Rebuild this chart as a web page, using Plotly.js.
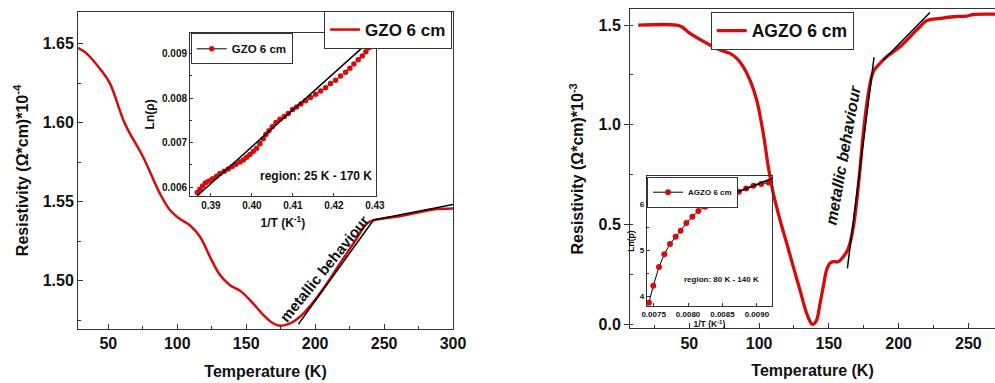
<!DOCTYPE html>
<html><head><meta charset="utf-8">
<script src="https://cdn.plot.ly/plotly-3.0.1.min.js"></script>
<style>html,body{margin:0;padding:0;background:#fff}#c{width:995px;height:383px}</style>
</head><body><div id="c"></div>
<script>
// ---- GZO main curve ----
const gzoT = [28,34.3,44,51.2,62,75.4,87.5,94.8,102,109.3,116.5,123.8,131,138.3,145.6,152.8,162.5,169.7,174.6,181.8,189,198.8,208.5,218,227.8,237.5,242.3,249.6,261.7,273.8,285.9,300];
const gzoR = [1.6473,1.6437,1.634,1.6247,1.5994,1.578,1.555,1.5446,1.539,1.535,1.5278,1.515,1.5036,1.4972,1.4937,1.4878,1.4783,1.473,1.4715,1.473,1.4772,1.4867,1.4983,1.511,1.5236,1.5362,1.5383,1.5394,1.5408,1.543,1.5451,1.5457];
const gzoFit1T = [187.9,242.3];
const gzoFit1R = [1.4726,1.5384];
const gzoFit2T = [242.3,300.3];
const gzoFit2R = [1.5384,1.5483];
// ---- GZO inset ----
const gzoInvT = [0.38667,0.38732,0.38797,0.3887,0.38951,0.39041,0.39138,0.3922,0.39325,0.39423,0.3952,0.3961,0.39707,0.39789,0.3987,0.39951,0.40033,0.40114,0.40195,0.40276,0.40341,0.40415,0.40496,0.40585,0.40683,0.40789,0.40886,0.40992,0.41089,0.41195,0.41309,0.41431,0.41553,0.41675,0.41797,0.41919,0.42041,0.42163,0.42285,0.4239,0.42488,0.42593,0.42691,0.4278,0.42854,0.42919,0.42959,0.43];
const gzoLn = [0.005879,0.005952,0.006025,0.006098,0.006135,0.006186,0.006244,0.006303,0.006354,0.006405,0.006463,0.006515,0.006566,0.00661,0.006668,0.006734,0.0068,0.006873,0.006975,0.007085,0.00718,0.007268,0.007355,0.00745,0.007523,0.007589,0.007655,0.007743,0.007801,0.007867,0.00794,0.008013,0.008086,0.008159,0.008232,0.008327,0.008401,0.008496,0.008583,0.008671,0.008766,0.008861,0.008949,0.009044,0.009132,0.009205,0.0093,0.009366];
const gzoInsetFitX = [0.38667,0.43];
const gzoInsetFitY = [0.005806,0.009387];
// ---- AGZO main curve ----
const agzoT = [13.4,40.9,44.5,50.5,57.6,64.8,72,79.2,84,88.7,93.5,98.3,103,106.6,110.2,115,119.8,124.5,129.3,134.1,137.7,138.9,141.3,143.7,146,148.4,150.8,153.2,156.8,160.4,164,167.6,171.1,174.7,178.3,181.9,186.7,191.4,201,208.2,215.3,220.1,229.7,239.2,248.8,253.6,263.2,269.5];
const agzoR = [1.5,1.5,1.4916,1.458,1.428,1.4,1.3746,1.358,1.333,1.291,1.224,1.124,0.957,0.79,0.656,0.523,0.406,0.289,0.172,0.055,0.0017,0.0,0.0217,0.105,0.189,0.272,0.306,0.314,0.314,0.339,0.381,0.489,0.69,0.957,1.157,1.266,1.308,1.341,1.391,1.441,1.4916,1.5216,1.533,1.5417,1.545,1.553,1.555,1.555];
const agzoFit1T = [163.3,182.4];
const agzoFit1R = [0.2806,1.338];
const agzoFit2T = [189.1,222.5];
const agzoFit2R = [1.3245,1.5634];
// ---- AGZO inset ----
const agzoInvT = [0.007432,0.007495,0.007578,0.007655,0.007738,0.00782,0.007893,0.007976,0.008063,0.00815,0.008248,0.008335,0.008427,0.008529,0.008636,0.008738,0.008845,0.008951,0.009063,0.00917];
const agzoLn = [3.855,4.225,4.63,4.906,5.13,5.29,5.42,5.587,5.725,5.848,5.942,6.007,6.087,6.159,6.232,6.268,6.34,6.399,6.435,6.471];
const agzoInsetFitX = [0.0082,0.009223];
const agzoInsetFitY = [5.957,6.558];

const RED = '#d40c0c';
const FONT = 'Arial, "Liberation Sans", sans-serif';
const fb = (s, extra) => Object.assign({family: FONT, size: s, color: '#111', weight: 'bold'}, extra || {});

const traces = [
  {x: gzoT, y: gzoR, xaxis: 'x', yaxis: 'y', mode: 'lines', line: {color: RED, width: 2.5, shape: 'spline'}, name: 'GZO 6 cm', legend: 'legend'},
  {x: gzoFit1T, y: gzoFit1R, xaxis: 'x', yaxis: 'y', mode: 'lines', line: {color: '#000', width: 1.5}, showlegend: false},
  {x: gzoFit2T, y: gzoFit2R, xaxis: 'x', yaxis: 'y', mode: 'lines', line: {color: '#000', width: 1.5}, showlegend: false},
  {x: gzoInvT, y: gzoLn, xaxis: 'x2', yaxis: 'y2', mode: 'lines+markers', line: {color: '#000', width: 1}, marker: {color: RED, size: 5.5}, name: 'GZO 6 cm', legend: 'legend2'},
  {x: gzoInsetFitX, y: gzoInsetFitY, xaxis: 'x2', yaxis: 'y2', mode: 'lines', line: {color: '#000', width: 1.5}, showlegend: false},
  {x: agzoT, y: agzoR, xaxis: 'x3', yaxis: 'y3', mode: 'lines', line: {color: RED, width: 3.3, shape: 'spline'}, name: 'AGZO 6 cm', legend: 'legend3'},
  {x: agzoFit1T, y: agzoFit1R, xaxis: 'x3', yaxis: 'y3', mode: 'lines', line: {color: '#000', width: 1.5}, showlegend: false},
  {x: agzoFit2T, y: agzoFit2R, xaxis: 'x3', yaxis: 'y3', mode: 'lines', line: {color: '#000', width: 1.5}, showlegend: false},
  {x: agzoInvT, y: agzoLn, xaxis: 'x4', yaxis: 'y4', mode: 'lines+markers', line: {color: '#000', width: 1}, marker: {color: RED, size: 6}, name: 'AGZO 6 cm', legend: 'legend4'},
  {x: agzoInsetFitX, y: agzoInsetFitY, xaxis: 'x4', yaxis: 'y4', mode: 'lines', line: {color: '#000', width: 1.5}, showlegend: false}
];

const axBase = {showline: true, linecolor: '#333', linewidth: 1, showgrid: false, zeroline: false, ticks: 'inside', tickcolor: '#333', ticklen: 5};

const layout = {
  width: 995, height: 383, margin: {l: 0, r: 0, t: 0, b: 0},
  paper_bgcolor: '#fff', plot_bgcolor: 'rgba(0,0,0,0)',
  font: {family: FONT},
  xaxis: Object.assign({}, axBase, {domain: [0.0784, 0.4553], range: [28, 300], anchor: 'y', dtick: 50, tick0: 0, mirror: true,
    tickfont: fb(16), minor: {dtick: 25, ticks: 'inside', ticklen: 3, tickcolor: '#333'},
    title: {text: 'Temperature (K)', font: fb(16), standoff: 14}}),
  yaxis: Object.assign({}, axBase, {domain: [0.141, 0.9687], range: [1.4695, 1.67], anchor: 'x', dtick: 0.05, tick0: 0, tickformat: '.2f', mirror: true,
    tickfont: fb(16), minor: {dtick: 0.025, ticks: 'inside', ticklen: 3, tickcolor: '#333'},
    title: {text: 'Resistivity (Ω*cm)*10<sup>-4</sup>', font: fb(16), standoff: 10}}),
  xaxis2: Object.assign({}, axBase, {domain: [0.191, 0.3776], range: [0.3849, 0.4302], anchor: 'y2', tickvals: [0.39,0.40,0.41,0.42,0.43], tickformat: '.2f', mirror: true, ticklen: 3,
    tickfont: fb(10), title: {text: '1/T (K<sup>-1</sup>)', font: fb(12), standoff: 8}}),
  yaxis2: Object.assign({}, axBase, {domain: [0.4883, 0.9146], range: [0.0058, 0.00947], anchor: 'x2', dtick: 0.001, tick0: 0, tickformat: '.3f', mirror: true, ticklen: 3,
    tickfont: fb(10), minor: {dtick: 0.0005, ticks: 'inside', ticklen: 2, tickcolor: '#333'},
    title: {text: 'Ln(ρ)', font: fb(12), standoff: 4}}),
  xaxis3: Object.assign({}, axBase, {domain: [0.6332, 1], range: [7.5, 269.1], anchor: 'y3', dtick: 50, tick0: 0, mirror: true,
    tickfont: fb(16), minor: {dtick: 25, ticks: 'inside', ticklen: 3, tickcolor: '#333'},
    title: {text: 'Temperature (K)', font: fb(16), standoff: 14}}),
  yaxis3: Object.assign({}, axBase, {domain: [0.1428, 0.9757], range: [-0.02, 1.579], anchor: 'x3', dtick: 0.5, tick0: 0, tickformat: '.1f', mirror: false, ticks: 'outside',
    tickfont: fb(16), minor: {dtick: 0.25, ticks: 'inside', ticklen: 3, tickcolor: '#333'},
    title: {text: 'Resistivity (Ω*cm)*10<sup>-3</sup>', font: fb(16), standoff: 10}}),
  xaxis4: Object.assign({}, axBase, {domain: [0.65, 0.7759], range: [0.0074, 0.00922], anchor: 'y4', tickvals: [0.0075,0.0080,0.0085,0.0090], tickformat: '.4f', mirror: true, ticklen: 3,
    tickfont: fb(8), title: {text: '1/T (K<sup>-1</sup>)', font: fb(8.5), standoff: 2}}),
  yaxis4: Object.assign({}, axBase, {domain: [0.201, 0.5405], range: [3.783, 6.61], anchor: 'x4', dtick: 1, tick0: 0, mirror: true, ticklen: 3,
    tickfont: fb(8), minor: {dtick: 0.5, ticks: 'inside', ticklen: 2, tickcolor: '#333'},
    title: {text: 'Ln(ρ)', font: fb(8.5), standoff: 3}}),
  legend: {x: 0.4543, xanchor: 'right', y: 0.9713, yanchor: 'top', bgcolor: '#fff', bordercolor: '#333', borderwidth: 1, font: fb(17), tracegroupgap: 0},
  legend2: {x: 0.1917, xanchor: 'left', y: 0.913, yanchor: 'top', bgcolor: '#fff', bordercolor: '#333', borderwidth: 1, font: fb(11.5), itemwidth: 30},
  legend3: {x: 0.7143, xanchor: 'left', y: 0.9695, yanchor: 'top', bgcolor: '#fff', bordercolor: '#333', borderwidth: 1, font: fb(17.5)},
  legend4: {x: 0.6503, xanchor: 'left', y: 0.5386, yanchor: 'top', bgcolor: '#fff', bordercolor: '#333', borderwidth: 1, font: fb(8), itemwidth: 30},
  annotations: [
    {xref: 'x', yref: 'y', x: 206.5, y: 1.508, text: 'metallic behaviour', showarrow: false, textangle: -51, font: fb(15)},
    {xref: 'x3', yref: 'y3', x: 159.9, y: 0.8485, text: 'metallic behaviour', showarrow: false, textangle: -80, font: fb(16, {style: 'italic'})},
    {xref: 'x2', yref: 'y2', x: 0.4297, y: 0.006243, xanchor: 'right', text: 'region: 25 K - 170 K', showarrow: false, font: fb(12)},
    {xref: 'x4', yref: 'y4', x: 0.00849, y: 4.363, text: 'region: 80 K - 140 K', showarrow: false, font: fb(8)}
  ],
  showlegend: true
};

Plotly.newPlot('c', traces, layout, {staticPlot: true, displayModeBar: false});
</script>
</body></html>
